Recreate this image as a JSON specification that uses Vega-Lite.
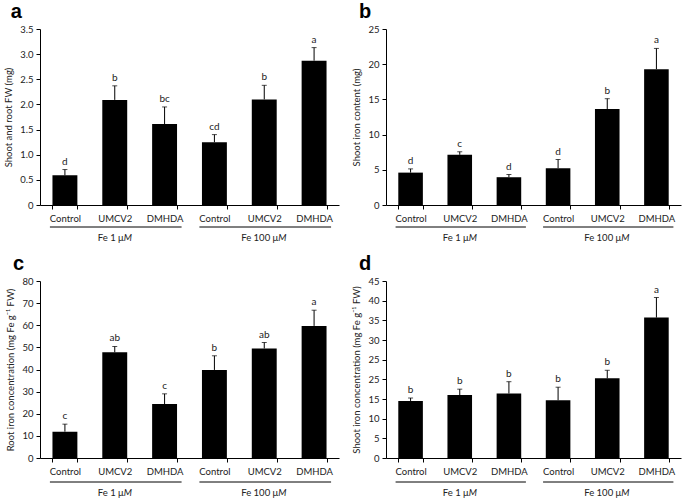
{
"$schema": "https://vega.github.io/schema/vega-lite/v6.json",
"padding": {"left": 3, "top": 2, "right": 2, "bottom": 0},
"config": {
 "view": {"stroke": null},
 "font": "Lato",
 "axis": {"domainColor": "#000", "tickColor": "#000", "labelColor": "#222", "titleColor": "#222", "labelFontSize": 9.5, "titleFontSize": 9.5, "titleFontWeight": "normal", "grid": false, "tickSize": 4, "labelFont": "Lato", "titleFont": "Lato", "labelOverlap": false},
 "axisX": {"tickBand": "extent", "labelAngle": 0, "labelPadding": 4},
 "axisY": {"labelPadding": 3, "titlePadding": 6},
 "title": {"anchor": "start", "fontSize": 20, "fontWeight": "bold", "font": "Liberation Sans", "color": "#000", "offset": 2, "dx": 7},
 "text": {"font": "Lato", "fontSize": 10, "color": "#222"}
},
"datasets": {
 "a": [
  {"id": "1 Control", "mean": 0.59, "upper": 0.705, "letter": "d"},
  {"id": "1 UMCV2", "mean": 2.09, "upper": 2.37, "letter": "b"},
  {"id": "1 DMHDA", "mean": 1.61, "upper": 1.95, "letter": "bc"},
  {"id": "2 Control", "mean": 1.25, "upper": 1.40, "letter": "cd"},
  {"id": "2 UMCV2", "mean": 2.10, "upper": 2.38, "letter": "b"},
  {"id": "2 DMHDA", "mean": 2.87, "upper": 3.13, "letter": "a"}
 ],
 "b": [
  {"id": "1 Control", "mean": 4.6, "upper": 5.13, "letter": "d"},
  {"id": "1 UMCV2", "mean": 7.13, "upper": 7.56, "letter": "c"},
  {"id": "1 DMHDA", "mean": 3.95, "upper": 4.33, "letter": "d"},
  {"id": "2 Control", "mean": 5.23, "upper": 6.46, "letter": "d"},
  {"id": "2 UMCV2", "mean": 13.64, "upper": 15.1, "letter": "b"},
  {"id": "2 DMHDA", "mean": 19.3, "upper": 22.24, "letter": "a"}
 ],
 "c": [
  {"id": "1 Control", "mean": 11.9, "upper": 15.3, "letter": "c"},
  {"id": "1 UMCV2", "mean": 47.8, "upper": 50.4, "letter": "ab"},
  {"id": "1 DMHDA", "mean": 24.4, "upper": 29.0, "letter": "c"},
  {"id": "2 Control", "mean": 39.8, "upper": 46.2, "letter": "b"},
  {"id": "2 UMCV2", "mean": 49.5, "upper": 52.2, "letter": "ab"},
  {"id": "2 DMHDA", "mean": 59.7, "upper": 66.8, "letter": "a"}
 ],
 "d": [
  {"id": "1 Control", "mean": 14.5, "upper": 15.25, "letter": "b"},
  {"id": "1 UMCV2", "mean": 16.0, "upper": 17.5, "letter": "b"},
  {"id": "1 DMHDA", "mean": 16.4, "upper": 19.4, "letter": "b"},
  {"id": "2 Control", "mean": 14.7, "upper": 18.0, "letter": "b"},
  {"id": "2 UMCV2", "mean": 20.25, "upper": 22.3, "letter": "b"},
  {"id": "2 DMHDA", "mean": 35.7, "upper": 40.8, "letter": "a"}
 ],
 "groups": [
  {"g": 1, "start": "1 Control", "end": "1 DMHDA", "mid": "1 UMCV2", "t": "Fe 1 μ"},
  {"g": 2, "start": "2 Control", "end": "2 DMHDA", "mid": "2 UMCV2", "t": "Fe 100 μ"}
 ]
},
"spacing": 11,
"vconcat": [
 {"spacing": 12, "hconcat": [
  {"width": 299, "height": 176, "title": {"text": "a"},
   "layer": [
    {"data": {"name": "a"}, "mark": {"type": "bar", "color": "#000"},
     "encoding": {"x": {"field": "id", "type": "nominal", "title": null, "scale": {"domain": ["1 Control", "1 UMCV2", "1 DMHDA", "2 Control", "2 UMCV2", "2 DMHDA"], "paddingInner": 0.5, "paddingOuter": 0.25}, "axis": {"labelExpr": "substring(datum.label, 2)"}},
      "y": {"field": "mean", "type": "quantitative", "scale": {"domain": [0, 3.5], "nice": false}, "axis": {"title": "Shoot and root FW (mg)", "values": [0, 0.5, 1, 1.5, 2, 2.5, 3, 3.5], "labelExpr": "datum.value == 0 ? '0' : format(datum.value, '.1f')"}}}},
    {"data": {"name": "a"}, "mark": {"type": "rule", "color": "#000"},
     "encoding": {"x": {"field": "id", "type": "nominal", "title": null}, "y": {"field": "mean", "type": "quantitative", "axis": {"title": "Shoot and root FW (mg)", "values": [0, 0.5, 1, 1.5, 2, 2.5, 3, 3.5], "labelExpr": "datum.value == 0 ? '0' : format(datum.value, '.1f')"}}, "y2": {"field": "upper"}}},
    {"data": {"name": "a"}, "mark": {"type": "tick", "color": "#000", "size": 5, "thickness": 1},
     "encoding": {"x": {"field": "id", "type": "nominal", "title": null}, "y": {"field": "upper", "type": "quantitative", "axis": {"title": "Shoot and root FW (mg)", "values": [0, 0.5, 1, 1.5, 2, 2.5, 3, 3.5], "labelExpr": "datum.value == 0 ? '0' : format(datum.value, '.1f')"}}}},
    {"data": {"name": "a"}, "mark": {"type": "text", "baseline": "bottom", "dy": -3},
     "encoding": {"x": {"field": "id", "type": "nominal", "title": null}, "y": {"field": "upper", "type": "quantitative", "axis": {"title": "Shoot and root FW (mg)", "values": [0, 0.5, 1, 1.5, 2, 2.5, 3, 3.5], "labelExpr": "datum.value == 0 ? '0' : format(datum.value, '.1f')"}}, "text": {"field": "letter"}}},
    {"data": {"name": "groups"}, "mark": {"type": "rule", "color": "#000", "yOffset": 22, "xOffset": -15, "x2Offset": 17},
     "encoding": {"x": {"field": "start", "type": "nominal", "title": null}, "x2": {"field": "end"}, "y": {"datum": 0, "type": "quantitative", "axis": {"title": "Shoot and root FW (mg)", "values": [0, 0.5, 1, 1.5, 2, 2.5, 3, 3.5], "labelExpr": "datum.value == 0 ? '0' : format(datum.value, '.1f')"}}}},
    {"data": {"name": "groups"}, "mark": {"type": "text", "align": "right", "dx": 9, "yOffset": 33, "fontSize": 9.5},
     "transform": [{"filter": "datum.g == 1"}],
     "encoding": {"x": {"field": "mid", "type": "nominal", "title": null}, "y": {"datum": 0, "type": "quantitative", "axis": {"title": "Shoot and root FW (mg)", "values": [0, 0.5, 1, 1.5, 2, 2.5, 3, 3.5], "labelExpr": "datum.value == 0 ? '0' : format(datum.value, '.1f')"}}, "text": {"field": "t"}}},
    {"data": {"name": "groups"}, "mark": {"type": "text", "align": "left", "dx": 9, "yOffset": 33, "fontSize": 9.5, "fontStyle": "italic", "text": "M"},
     "transform": [{"filter": "datum.g == 1"}],
     "encoding": {"x": {"field": "mid", "type": "nominal", "title": null}, "y": {"datum": 0, "type": "quantitative", "axis": {"title": "Shoot and root FW (mg)", "values": [0, 0.5, 1, 1.5, 2, 2.5, 3, 3.5], "labelExpr": "datum.value == 0 ? '0' : format(datum.value, '.1f')"}}}},
    {"data": {"name": "groups"}, "mark": {"type": "text", "align": "right", "dx": 14, "yOffset": 33, "fontSize": 9.5},
     "transform": [{"filter": "datum.g == 2"}],
     "encoding": {"x": {"field": "mid", "type": "nominal", "title": null}, "y": {"datum": 0, "type": "quantitative", "axis": {"title": "Shoot and root FW (mg)", "values": [0, 0.5, 1, 1.5, 2, 2.5, 3, 3.5], "labelExpr": "datum.value == 0 ? '0' : format(datum.value, '.1f')"}}, "text": {"field": "t"}}},
    {"data": {"name": "groups"}, "mark": {"type": "text", "align": "left", "dx": 14, "yOffset": 33, "fontSize": 9.5, "fontStyle": "italic", "text": "M"},
     "transform": [{"filter": "datum.g == 2"}],
     "encoding": {"x": {"field": "mid", "type": "nominal", "title": null}, "y": {"datum": 0, "type": "quantitative", "axis": {"title": "Shoot and root FW (mg)", "values": [0, 0.5, 1, 1.5, 2, 2.5, 3, 3.5], "labelExpr": "datum.value == 0 ? '0' : format(datum.value, '.1f')"}}}}
   ]},
  {"width": 295, "height": 176, "title": {"text": "b"},
   "layer": [
    {"data": {"name": "b"}, "mark": {"type": "bar", "color": "#000"},
     "encoding": {"x": {"field": "id", "type": "nominal", "title": null, "scale": {"domain": ["1 Control", "1 UMCV2", "1 DMHDA", "2 Control", "2 UMCV2", "2 DMHDA"], "paddingInner": 0.5, "paddingOuter": 0.25}, "axis": {"labelExpr": "substring(datum.label, 2)"}},
      "y": {"field": "mean", "type": "quantitative", "scale": {"domain": [0, 25], "nice": false}, "axis": {"title": "Shoot iron content (mg)", "values": [0, 5, 10, 15, 20, 25]}}}},
    {"data": {"name": "b"}, "mark": {"type": "rule", "color": "#000"},
     "encoding": {"x": {"field": "id", "type": "nominal", "title": null}, "y": {"field": "mean", "type": "quantitative", "axis": {"title": "Shoot iron content (mg)", "values": [0, 5, 10, 15, 20, 25]}}, "y2": {"field": "upper"}}},
    {"data": {"name": "b"}, "mark": {"type": "tick", "color": "#000", "size": 5, "thickness": 1},
     "encoding": {"x": {"field": "id", "type": "nominal", "title": null}, "y": {"field": "upper", "type": "quantitative", "axis": {"title": "Shoot iron content (mg)", "values": [0, 5, 10, 15, 20, 25]}}}},
    {"data": {"name": "b"}, "mark": {"type": "text", "baseline": "bottom", "dy": -3},
     "encoding": {"x": {"field": "id", "type": "nominal", "title": null}, "y": {"field": "upper", "type": "quantitative", "axis": {"title": "Shoot iron content (mg)", "values": [0, 5, 10, 15, 20, 25]}}, "text": {"field": "letter"}}},
    {"data": {"name": "groups"}, "mark": {"type": "rule", "color": "#000", "yOffset": 22, "xOffset": -15, "x2Offset": 17},
     "encoding": {"x": {"field": "start", "type": "nominal", "title": null}, "x2": {"field": "end"}, "y": {"datum": 0, "type": "quantitative", "axis": {"title": "Shoot iron content (mg)", "values": [0, 5, 10, 15, 20, 25]}}}},
    {"data": {"name": "groups"}, "mark": {"type": "text", "align": "right", "dx": 9, "yOffset": 33, "fontSize": 9.5},
     "transform": [{"filter": "datum.g == 1"}],
     "encoding": {"x": {"field": "mid", "type": "nominal", "title": null}, "y": {"datum": 0, "type": "quantitative", "axis": {"title": "Shoot iron content (mg)", "values": [0, 5, 10, 15, 20, 25]}}, "text": {"field": "t"}}},
    {"data": {"name": "groups"}, "mark": {"type": "text", "align": "left", "dx": 9, "yOffset": 33, "fontSize": 9.5, "fontStyle": "italic", "text": "M"},
     "transform": [{"filter": "datum.g == 1"}],
     "encoding": {"x": {"field": "mid", "type": "nominal", "title": null}, "y": {"datum": 0, "type": "quantitative", "axis": {"title": "Shoot iron content (mg)", "values": [0, 5, 10, 15, 20, 25]}}}},
    {"data": {"name": "groups"}, "mark": {"type": "text", "align": "right", "dx": 14, "yOffset": 33, "fontSize": 9.5},
     "transform": [{"filter": "datum.g == 2"}],
     "encoding": {"x": {"field": "mid", "type": "nominal", "title": null}, "y": {"datum": 0, "type": "quantitative", "axis": {"title": "Shoot iron content (mg)", "values": [0, 5, 10, 15, 20, 25]}}, "text": {"field": "t"}}},
    {"data": {"name": "groups"}, "mark": {"type": "text", "align": "left", "dx": 14, "yOffset": 33, "fontSize": 9.5, "fontStyle": "italic", "text": "M"},
     "transform": [{"filter": "datum.g == 2"}],
     "encoding": {"x": {"field": "mid", "type": "nominal", "title": null}, "y": {"datum": 0, "type": "quantitative", "axis": {"title": "Shoot iron content (mg)", "values": [0, 5, 10, 15, 20, 25]}}}}
   ]}
 ]},
 {"spacing": 12, "hconcat": [
  {"width": 299, "height": 177, "title": {"text": "c"},
   "layer": [
    {"data": {"name": "c"}, "mark": {"type": "bar", "color": "#000"},
     "encoding": {"x": {"field": "id", "type": "nominal", "title": null, "scale": {"domain": ["1 Control", "1 UMCV2", "1 DMHDA", "2 Control", "2 UMCV2", "2 DMHDA"], "paddingInner": 0.5, "paddingOuter": 0.25}, "axis": {"labelExpr": "substring(datum.label, 2)"}},
      "y": {"field": "mean", "type": "quantitative", "scale": {"domain": [0, 80], "nice": false}, "axis": {"title": "Root iron concentration (mg Fe g⁻¹ FW)", "values": [0, 10, 20, 30, 40, 50, 60, 70, 80]}}}},
    {"data": {"name": "c"}, "mark": {"type": "rule", "color": "#000"},
     "encoding": {"x": {"field": "id", "type": "nominal", "title": null}, "y": {"field": "mean", "type": "quantitative", "axis": {"title": "Root iron concentration (mg Fe g⁻¹ FW)", "values": [0, 10, 20, 30, 40, 50, 60, 70, 80]}}, "y2": {"field": "upper"}}},
    {"data": {"name": "c"}, "mark": {"type": "tick", "color": "#000", "size": 5, "thickness": 1},
     "encoding": {"x": {"field": "id", "type": "nominal", "title": null}, "y": {"field": "upper", "type": "quantitative", "axis": {"title": "Root iron concentration (mg Fe g⁻¹ FW)", "values": [0, 10, 20, 30, 40, 50, 60, 70, 80]}}}},
    {"data": {"name": "c"}, "mark": {"type": "text", "baseline": "bottom", "dy": -3},
     "encoding": {"x": {"field": "id", "type": "nominal", "title": null}, "y": {"field": "upper", "type": "quantitative", "axis": {"title": "Root iron concentration (mg Fe g⁻¹ FW)", "values": [0, 10, 20, 30, 40, 50, 60, 70, 80]}}, "text": {"field": "letter"}}},
    {"data": {"name": "groups"}, "mark": {"type": "rule", "color": "#000", "yOffset": 24, "xOffset": -15, "x2Offset": 17},
     "encoding": {"x": {"field": "start", "type": "nominal", "title": null}, "x2": {"field": "end"}, "y": {"datum": 0, "type": "quantitative", "axis": {"title": "Root iron concentration (mg Fe g⁻¹ FW)", "values": [0, 10, 20, 30, 40, 50, 60, 70, 80]}}}},
    {"data": {"name": "groups"}, "mark": {"type": "text", "align": "right", "dx": 9, "yOffset": 35, "fontSize": 9.5},
     "transform": [{"filter": "datum.g == 1"}],
     "encoding": {"x": {"field": "mid", "type": "nominal", "title": null}, "y": {"datum": 0, "type": "quantitative", "axis": {"title": "Root iron concentration (mg Fe g⁻¹ FW)", "values": [0, 10, 20, 30, 40, 50, 60, 70, 80]}}, "text": {"field": "t"}}},
    {"data": {"name": "groups"}, "mark": {"type": "text", "align": "left", "dx": 9, "yOffset": 35, "fontSize": 9.5, "fontStyle": "italic", "text": "M"},
     "transform": [{"filter": "datum.g == 1"}],
     "encoding": {"x": {"field": "mid", "type": "nominal", "title": null}, "y": {"datum": 0, "type": "quantitative", "axis": {"title": "Root iron concentration (mg Fe g⁻¹ FW)", "values": [0, 10, 20, 30, 40, 50, 60, 70, 80]}}}},
    {"data": {"name": "groups"}, "mark": {"type": "text", "align": "right", "dx": 14, "yOffset": 35, "fontSize": 9.5},
     "transform": [{"filter": "datum.g == 2"}],
     "encoding": {"x": {"field": "mid", "type": "nominal", "title": null}, "y": {"datum": 0, "type": "quantitative", "axis": {"title": "Root iron concentration (mg Fe g⁻¹ FW)", "values": [0, 10, 20, 30, 40, 50, 60, 70, 80]}}, "text": {"field": "t"}}},
    {"data": {"name": "groups"}, "mark": {"type": "text", "align": "left", "dx": 14, "yOffset": 35, "fontSize": 9.5, "fontStyle": "italic", "text": "M"},
     "transform": [{"filter": "datum.g == 2"}],
     "encoding": {"x": {"field": "mid", "type": "nominal", "title": null}, "y": {"datum": 0, "type": "quantitative", "axis": {"title": "Root iron concentration (mg Fe g⁻¹ FW)", "values": [0, 10, 20, 30, 40, 50, 60, 70, 80]}}}}
   ]},
  {"width": 295, "height": 177, "title": {"text": "d"},
   "layer": [
    {"data": {"name": "d"}, "mark": {"type": "bar", "color": "#000"},
     "encoding": {"x": {"field": "id", "type": "nominal", "title": null, "scale": {"domain": ["1 Control", "1 UMCV2", "1 DMHDA", "2 Control", "2 UMCV2", "2 DMHDA"], "paddingInner": 0.5, "paddingOuter": 0.25}, "axis": {"labelExpr": "substring(datum.label, 2)"}},
      "y": {"field": "mean", "type": "quantitative", "scale": {"domain": [0, 45], "nice": false}, "axis": {"title": "Shoot iron concentration (mg Fe g⁻¹ FW)", "values": [0, 5, 10, 15, 20, 25, 30, 35, 40, 45], "labelExpr": "datum.value == 20 ? '25' : datum.label"}}}},
    {"data": {"name": "d"}, "mark": {"type": "rule", "color": "#000"},
     "encoding": {"x": {"field": "id", "type": "nominal", "title": null}, "y": {"field": "mean", "type": "quantitative", "axis": {"title": "Shoot iron concentration (mg Fe g⁻¹ FW)", "values": [0, 5, 10, 15, 20, 25, 30, 35, 40, 45], "labelExpr": "datum.value == 20 ? '25' : datum.label"}}, "y2": {"field": "upper"}}},
    {"data": {"name": "d"}, "mark": {"type": "tick", "color": "#000", "size": 5, "thickness": 1},
     "encoding": {"x": {"field": "id", "type": "nominal", "title": null}, "y": {"field": "upper", "type": "quantitative", "axis": {"title": "Shoot iron concentration (mg Fe g⁻¹ FW)", "values": [0, 5, 10, 15, 20, 25, 30, 35, 40, 45], "labelExpr": "datum.value == 20 ? '25' : datum.label"}}}},
    {"data": {"name": "d"}, "mark": {"type": "text", "baseline": "bottom", "dy": -3},
     "encoding": {"x": {"field": "id", "type": "nominal", "title": null}, "y": {"field": "upper", "type": "quantitative", "axis": {"title": "Shoot iron concentration (mg Fe g⁻¹ FW)", "values": [0, 5, 10, 15, 20, 25, 30, 35, 40, 45], "labelExpr": "datum.value == 20 ? '25' : datum.label"}}, "text": {"field": "letter"}}},
    {"data": {"name": "groups"}, "mark": {"type": "rule", "color": "#000", "yOffset": 24, "xOffset": -15, "x2Offset": 17},
     "encoding": {"x": {"field": "start", "type": "nominal", "title": null}, "x2": {"field": "end"}, "y": {"datum": 0, "type": "quantitative", "axis": {"title": "Shoot iron concentration (mg Fe g⁻¹ FW)", "values": [0, 5, 10, 15, 20, 25, 30, 35, 40, 45], "labelExpr": "datum.value == 20 ? '25' : datum.label"}}}},
    {"data": {"name": "groups"}, "mark": {"type": "text", "align": "right", "dx": 9, "yOffset": 35, "fontSize": 9.5},
     "transform": [{"filter": "datum.g == 1"}],
     "encoding": {"x": {"field": "mid", "type": "nominal", "title": null}, "y": {"datum": 0, "type": "quantitative", "axis": {"title": "Shoot iron concentration (mg Fe g⁻¹ FW)", "values": [0, 5, 10, 15, 20, 25, 30, 35, 40, 45], "labelExpr": "datum.value == 20 ? '25' : datum.label"}}, "text": {"field": "t"}}},
    {"data": {"name": "groups"}, "mark": {"type": "text", "align": "left", "dx": 9, "yOffset": 35, "fontSize": 9.5, "fontStyle": "italic", "text": "M"},
     "transform": [{"filter": "datum.g == 1"}],
     "encoding": {"x": {"field": "mid", "type": "nominal", "title": null}, "y": {"datum": 0, "type": "quantitative", "axis": {"title": "Shoot iron concentration (mg Fe g⁻¹ FW)", "values": [0, 5, 10, 15, 20, 25, 30, 35, 40, 45], "labelExpr": "datum.value == 20 ? '25' : datum.label"}}}},
    {"data": {"name": "groups"}, "mark": {"type": "text", "align": "right", "dx": 14, "yOffset": 35, "fontSize": 9.5},
     "transform": [{"filter": "datum.g == 2"}],
     "encoding": {"x": {"field": "mid", "type": "nominal", "title": null}, "y": {"datum": 0, "type": "quantitative", "axis": {"title": "Shoot iron concentration (mg Fe g⁻¹ FW)", "values": [0, 5, 10, 15, 20, 25, 30, 35, 40, 45], "labelExpr": "datum.value == 20 ? '25' : datum.label"}}, "text": {"field": "t"}}},
    {"data": {"name": "groups"}, "mark": {"type": "text", "align": "left", "dx": 14, "yOffset": 35, "fontSize": 9.5, "fontStyle": "italic", "text": "M"},
     "transform": [{"filter": "datum.g == 2"}],
     "encoding": {"x": {"field": "mid", "type": "nominal", "title": null}, "y": {"datum": 0, "type": "quantitative", "axis": {"title": "Shoot iron concentration (mg Fe g⁻¹ FW)", "values": [0, 5, 10, 15, 20, 25, 30, 35, 40, 45], "labelExpr": "datum.value == 20 ? '25' : datum.label"}}}}
   ]}
 ]}
]
}
